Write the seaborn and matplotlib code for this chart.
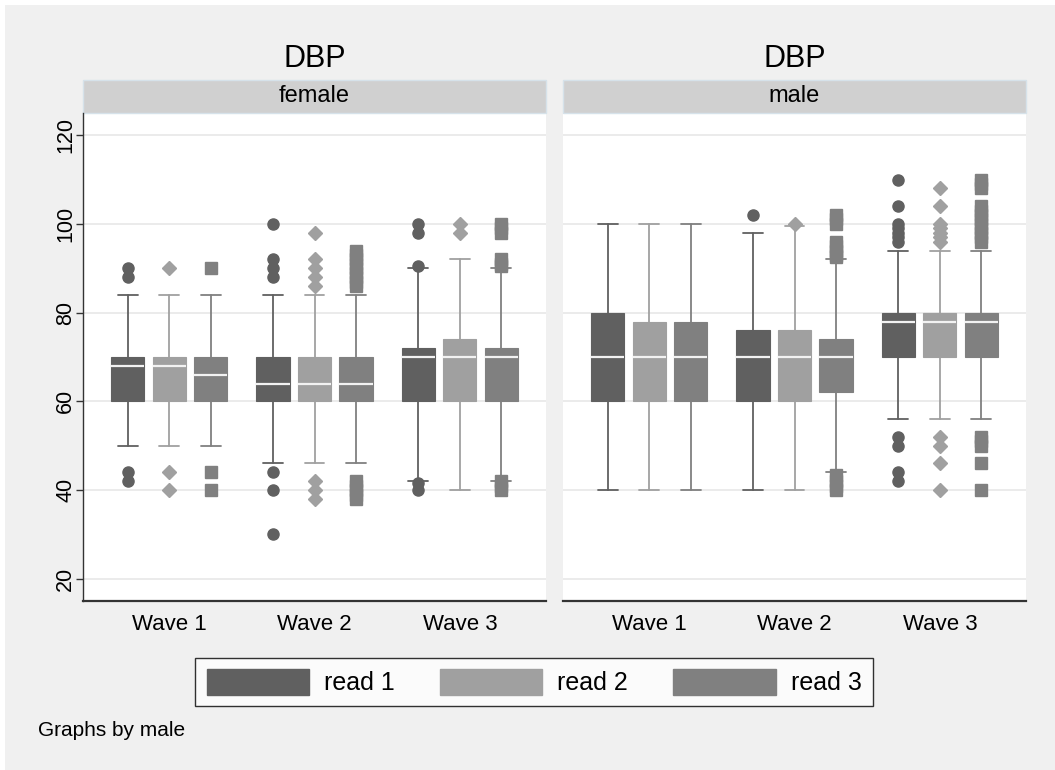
import numpy as np
import matplotlib.pyplot as plt
import seaborn as sns
from matplotlib.patches import Patch, Rectangle

# data (DBP by wave and reading, by sex)
waves = ["Wave 1", "Wave 2", "Wave 3"]
reads = ["read 1", "read 2", "read 3"]
panels = ["female", "male"]

# rows = waves, columns = reads
female_q1 = [[60, 60, 60], [60, 60, 60], [60, 60, 60]]
female_med = [[68, 68, 66], [64, 64, 64], [70, 70, 70]]
female_q3 = [[70, 70, 70], [70, 70, 70], [72, 74, 72]]
female_lo = [[50, 50, 50], [46, 46, 46], [42, 40, 42]]
female_hi = [[84, 84, 84], [84, 84, 84], [90, 92, 90]]
female_out = [
    [[42, 44, 88, 90], [40, 44, 90], [40, 44, 90]],
    [[30, 40, 44, 88, 90, 92, 100],
     [38, 40, 42, 86, 88, 90, 92, 98],
     [38, 39, 40, 41, 42, 86, 87, 88, 89, 90, 91, 92, 93, 94]],
    [[40, 41.5, 90.5, 98, 100], [98, 100], [40, 41, 42, 90.5, 91, 92, 98, 99, 100]],
]

male_q1 = [[60, 60, 60], [60, 60, 62], [70, 70, 70]]
male_med = [[70, 70, 70], [70, 70, 70], [78, 78, 78]]
male_q3 = [[80, 78, 78], [76, 76, 74], [80, 80, 80]]
male_lo = [[40, 40, 40], [40, 40, 44], [56, 56, 56]]
male_hi = [[100, 100, 100], [98, 99.5, 92], [94, 94, 94]]
male_out = [
    [[], [], []],
    [[102], [100], [40, 41, 42, 43.5, 92.5, 93, 94, 95, 96, 100, 101, 102]],
    [[42, 44, 50, 52, 96, 97, 98, 99, 100, 104, 110],
     [40, 46, 50, 52, 96, 97, 98, 99, 100, 104, 108],
     [40, 46, 50, 51, 52, 96, 97, 98, 99, 100, 101, 102, 103, 104, 108, 109, 110]],
]

yticks = [20, 40, 60, 80, 100, 120]

colors = ["#606060", "#a0a0a0", "#808080"]
markers = ["o", "D", "s"]
msizes = [8, 7, 8]

sns.set_theme(style="white")
plt.rcParams["font.family"] = ["Liberation Sans", "DejaVu Sans"]
plt.rcParams["text.color"] = "black"
plt.rcParams["xtick.color"] = "black"
plt.rcParams["ytick.color"] = "black"

fig = plt.figure(figsize=(10.55, 7.7), dpi=100, facecolor="white")
# light gray graph region with thin white frame top/left
fig.patches.append(Rectangle((5 / 1055, 0), 1 - 5 / 1055, 1 - 5 / 770,
                             transform=fig.transFigure, facecolor="#f0f0f0",
                             edgecolor="none", zorder=-10))

data = {
    "female": (female_q1, female_med, female_q3, female_lo, female_hi, female_out),
    "male": (male_q1, male_med, male_q3, male_lo, male_hi, male_out),
}

lefts = [83 / 1055, 563 / 1055]
offset = 0.286
bw = 0.228

for k, name in enumerate(panels):
    ax = fig.add_axes([lefts[k], 169 / 770, 463 / 1055, 488 / 770])
    ax.set_facecolor("white")
    q1, med, q3, lo, hi, out = data[name]

    for j in range(3):
        stats = []
        for i in range(3):
            stats.append({
                "q1": q1[i][j], "med": med[i][j], "q3": q3[i][j],
                "whislo": lo[i][j], "whishi": hi[i][j],
                "fliers": np.array(out[i][j], dtype=float),
            })
        pos = [i + (j - 1) * offset for i in range(3)]
        c = colors[j]
        ax.bxp(stats, positions=pos, widths=bw, patch_artist=True,
               showfliers=True, capwidths=bw * 0.6,
               boxprops=dict(facecolor=c, edgecolor=c, linewidth=0.8),
               medianprops=dict(color="#f2f2f2", linewidth=1.6),
               whiskerprops=dict(color=c, linewidth=1.3),
               capprops=dict(color=c, linewidth=1.3),
               flierprops=dict(marker=markers[j], markerfacecolor=c,
                               markeredgecolor=c, markersize=msizes[j],
                               linestyle="none"))

    ax.set_xlim(-0.593, 2.593)
    ax.set_ylim(15, 125)
    ax.set_yticks(yticks)
    ax.yaxis.grid(True, color="#e8e8e8", linewidth=1.2)
    ax.xaxis.grid(False)
    ax.set_axisbelow(True)
    ax.set_xticks(range(3))
    ax.set_xticklabels(waves, fontsize=16)
    ax.tick_params(axis="x", length=0, pad=9, labelcolor="black")

    for s in ["top", "right"]:
        ax.spines[s].set_visible(False)
    ax.spines["bottom"].set_color("#333333")
    ax.spines["bottom"].set_linewidth(1.6)
    if k == 0:
        ax.spines["left"].set_color("#333333")
        ax.spines["left"].set_linewidth(1.0)
        ax.tick_params(axis="y", length=5, width=1, color="#333333",
                       labelsize=15.5, pad=0, left=True, labelcolor="black")
        for t in ax.get_yticklabels():
            t.set_rotation(90)
            t.set_va("center")
    else:
        ax.spines["left"].set_visible(False)
        ax.tick_params(axis="y", left=False, labelleft=False)

    # strip + title above each panel
    h = 33 / 488
    ax.add_patch(Rectangle((0, 1), 1, h, transform=ax.transAxes,
                           facecolor="#d0d0d0", edgecolor="#d6e2ea",
                           linewidth=1, clip_on=False))
    ax.text(0.5, 1 + h / 2, name, transform=ax.transAxes, ha="center",
            va="center", fontsize=17)
    ax.text(0.5, 1 + 54 / 488, "DBP", transform=ax.transAxes, ha="center",
            va="center", fontsize=22)

handles = [Patch(facecolor=c, edgecolor=c) for c in colors]
leg = fig.legend(handles, reads, loc="center", ncol=3,
                 bbox_to_anchor=(534 / 1055, 1 - 682 / 770),
                 fontsize=18, frameon=True, fancybox=False,
                 handlelength=4.1, handleheight=1.2, handletextpad=0.6,
                 columnspacing=1.8, borderpad=0.45)
leg.get_frame().set_edgecolor("black")
leg.get_frame().set_linewidth(1.0)
leg.get_frame().set_facecolor("white")

fig.text(38 / 1055, 1 - 730 / 770, "Graphs by male", fontsize=15,
         ha="left", va="center")

fig.savefig("out.png", dpi=100, facecolor=fig.get_facecolor())
